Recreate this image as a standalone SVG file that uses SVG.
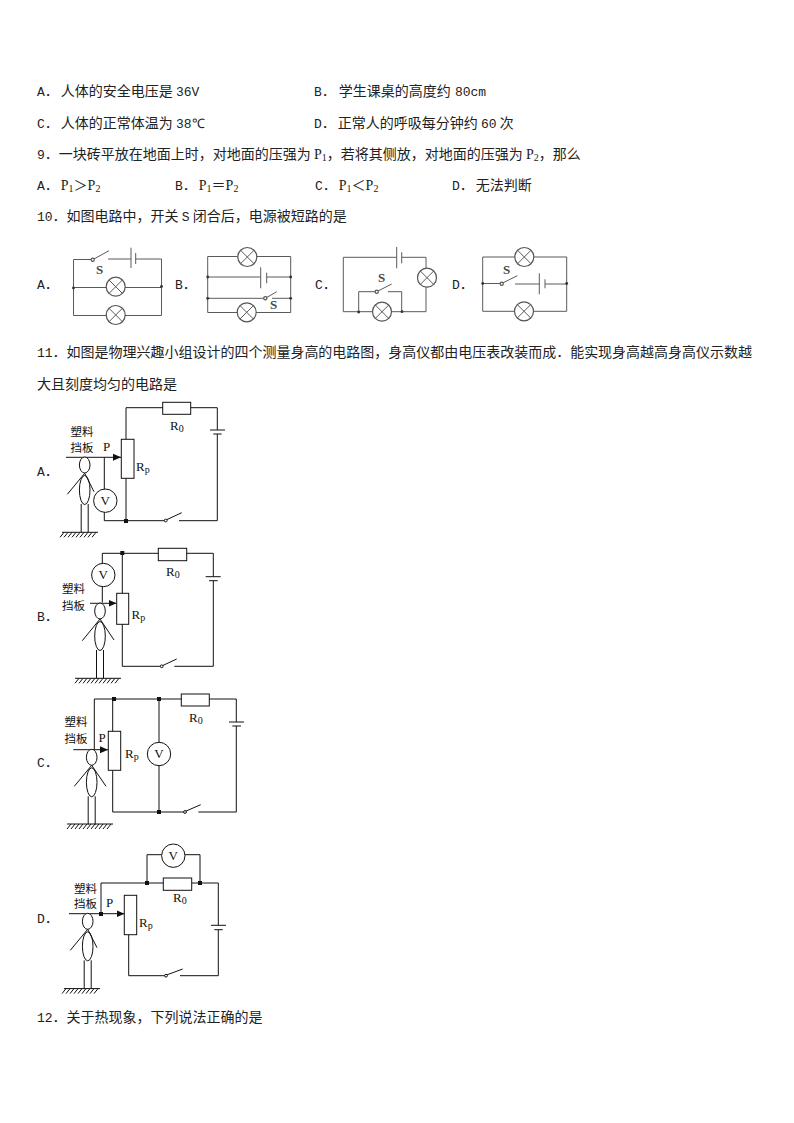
<svg xmlns="http://www.w3.org/2000/svg" xmlns:xlink="http://www.w3.org/1999/xlink" width="794" height="1123" viewBox="0 0 794 1123">
<style>
.t{font-family:"Noto Sans CJK SC","Liberation Serif",sans-serif;font-size:14px;fill:#222}
.l{font-family:"Liberation Mono",monospace;font-size:13px}
.n{font-family:"Liberation Serif",serif;font-size:14px}
.s{font-family:"Liberation Serif",serif;font-size:10px}
.lb{font-family:"Noto Sans CJK SC",sans-serif;font-size:11.5px;fill:#111}
.r{font-family:"Liberation Serif",serif;font-size:13px;fill:#111}
.w{fill:none;stroke:#111;stroke-width:1}
.g{fill:none;stroke:#5a5a5a;stroke-width:1}
.c{fill:#fff;stroke:#111;stroke-width:1}
.cg{fill:#fff;stroke:#555;stroke-width:1.2}
.d{fill:#111}
.dg{fill:#333}
.sg{font-family:"Liberation Serif",serif;font-size:13px;font-weight:bold;fill:#444}
</style>
<defs>
<marker id="ah" markerUnits="userSpaceOnUse" markerWidth="8" markerHeight="8" refX="8" refY="4" orient="auto"><path d="M0,0.5L8,4L0,7.5z" fill="#111"/></marker>
<g id="lamp"><circle r="9.5" class="cg"/><path d="M-6.7,-6.7L6.7,6.7M6.7,-6.7L-6.7,6.7" class="g"/></g>
<g id="person">
<ellipse cx="0" cy="0" rx="5.3" ry="8" class="c"/>
<ellipse cx="0" cy="25" rx="5.3" ry="14.5" class="c"/>
<path d="M-3.5,39V67.3M3.5,39V67.3" class="w"/>
</g>
<g id="hatch"><path d="M0,0H36M2,0L-2,5M6,0L2,5M10,0L6,5M14,0L10,5M18,0L14,5M22,0L18,5M26,0L22,5M30,0L26,5M34,0L30,5" class="w"/></g>
<g id="hatchw"><path d="M0,0H46M4,0L0,5M8,0L4,5M12,0L8,5M16,0L12,5M20,0L16,5M24,0L20,5M28,0L24,5M32,0L28,5M36,0L32,5M40,0L36,5M44,0L40,5" class="w"/></g>
</defs>
<rect width="794" height="1123" fill="#fff"/>
<g id="text">
<text class="t" x="37" y="96"><tspan class="l">A</tspan>．<tspan dx="2">人体的安全电压是 </tspan><tspan class="l">36V</tspan></text>
<text class="t" x="314" y="96"><tspan class="l">B</tspan>．<tspan dx="3">学生课桌的高度约 </tspan><tspan class="l" dx="1">80cm</tspan></text>
<text class="t" x="37" y="128"><tspan class="l">C</tspan>．<tspan dx="2">人体的正常体温为 </tspan><tspan class="l">38℃</tspan></text>
<text class="t" x="314" y="128"><tspan class="l">D</tspan>．<tspan dx="2">正常人的呼吸每分钟约 </tspan><tspan class="l">60</tspan> 次</text>
<text class="t" x="37" y="159"><tspan class="l">9</tspan>．一块砖平放在地面上时，对地面的压强为 <tspan class="n">P</tspan><tspan class="s" dy="2">1</tspan><tspan dy="-2">，若将其侧放，对地面的压强为 </tspan><tspan class="n">P</tspan><tspan class="s" dy="2">2</tspan><tspan dy="-2">，那么</tspan></text>
<text class="t" x="37" y="190"><tspan class="l">A</tspan>．<tspan class="n" dx="2">P</tspan><tspan class="s" dy="2">1</tspan><tspan dy="-2">＞</tspan><tspan class="n">P</tspan><tspan class="s" dy="2">2</tspan></text>
<text class="t" x="175" y="190"><tspan class="l">B</tspan>．<tspan class="n" dx="2">P</tspan><tspan class="s" dy="2">1</tspan><tspan dy="-2">＝</tspan><tspan class="n">P</tspan><tspan class="s" dy="2">2</tspan></text>
<text class="t" x="315" y="190"><tspan class="l">C</tspan>．<tspan class="n" dx="2">P</tspan><tspan class="s" dy="2">1</tspan><tspan dy="-2">＜</tspan><tspan class="n">P</tspan><tspan class="s" dy="2">2</tspan></text>
<text class="t" x="452" y="190"><tspan class="l">D</tspan>．<tspan dx="2">无法判断</tspan></text>
<text class="t" x="37" y="221"><tspan class="l">10</tspan>．如图电路中，开关 <tspan class="l">S</tspan> 闭合后，电源被短路的是</text>
<text class="t" x="37" y="357" textLength="715"><tspan class="l">11</tspan>．如图是物理兴趣小组设计的四个测量身高的电路图，身高仪都由电压表改装而成．能实现身高越高身高仪示数越</text>
<text class="t" x="37" y="389">大且刻度均匀的电路是</text>
<text class="t" x="37" y="1022"><tspan class="l">12</tspan>．关于热现象，下列说法正确的是</text>
<text class="t" x="37" y="289"><tspan class="l">A</tspan>．</text>
<text class="t" x="175" y="289"><tspan class="l">B</tspan>．</text>
<text class="t" x="315" y="289"><tspan class="l">C</tspan>．</text>
<text class="t" x="452" y="289"><tspan class="l">D</tspan>．</text>
<text class="t" x="37" y="476"><tspan class="l">A</tspan>．</text>
<text class="t" x="37" y="621"><tspan class="l">B</tspan>．</text>
<text class="t" x="37" y="767"><tspan class="l">C</tspan>．</text>
<text class="t" x="37" y="923"><tspan class="l">D</tspan>．</text>
</g>
<g id="connectors">
<!-- Q10 A -->
<path class="g" d="M92.7,259.5H73.5V315.5H161.5V259H135.7M131,259H108M92.7,259.7L109,250.7M73.5,287.5H161.5"/>
<path class="g" d="M131,247.7V268M135.7,253V264" stroke-width="1.4"/>
<!-- Q10 B -->
<path class="g" d="M207.7,256.5H290.7V312.5H207.7V256.5M207.7,277H260.7M266.7,277H290.7M207.7,298.3H265.3M272,298.3H290.7M265.3,298.3L276.7,291.7"/>
<path class="g" d="M260.7,267.3V288.3M266.7,272.7V283.3" stroke-width="1.4"/>
<!-- Q10 C -->
<path class="g" d="M396.7,257.3H343.3V311.7H426V257.3H401.7M358.7,311.7V291.7H376.7L391.7,284M388,291.7H401.7V311.7"/>
<path class="g" d="M396.7,247V268.3M401.7,252.3V263.3" stroke-width="1.4"/>
<!-- Q10 D -->
<path class="g" d="M482.7,257H566.7V311.3H482.7V257M482.7,283.5H501.7L517.3,275.7M515,284H539.3M545,284H566.7"/>
<path class="g" d="M539.3,273.3V294.3M545,279.3V288.3" stroke-width="1.4"/>
<!-- Q11 A -->
<path class="w" d="M126,439.3V407.7H217.3V430M217.3,434V520.7H179M165.7,520.7H104.3V457.3M126,478.3V520.7M165.7,520.2L181.7,512.7"/>
<path class="w" d="M210,430H225M213.3,434H221.7"/>
<path class="w" d="M66,457.3H121" marker-end="url(#ah)"/>
<!-- Q11 B -->
<path class="w" d="M102.3,602.5V553.3H213.3V576.7M213.3,580.7V666.3H174.3M161.7,666.3H122.3V624.3M122.3,593.3V553.3M161.7,666L176.7,659"/>
<path class="w" d="M205.7,576.7H220.7M209,580.7H217.7"/>
<path class="w" d="M90,603.3H116.5" marker-end="url(#ah)"/>
<!-- Q11 C -->
<path class="w" d="M94.3,749.7V699H236.3V722M236.3,726V812H198.3M185,812H112.7V770.3M112.7,731.3V699M159,699V812M185,811.5L200.7,804.7"/>
<path class="w" d="M229,722H244M232.3,726H241"/>
<path class="w" d="M73.3,749.7H108" marker-end="url(#ah)"/>
<!-- Q11 D -->
<path class="w" d="M101,914V883H218.3V925.3M218.3,929.7V975.7H180M166,975.7H128.7V934.7M147,883V854.7H161.7M185,854.7H200V883M166,975.2L182.7,969"/>
<path class="w" d="M211,925.3H226M214.3,929.7H222.7"/>
<path class="w" d="M69,913.7H124.5" marker-end="url(#ah)"/>
</g>
<g id="q10-a">
<use href="#lamp" x="115.7" y="286.7"/><use href="#lamp" x="115.7" y="315"/>
<circle cx="92.7" cy="259.7" r="1.6" class="cg"/>
<circle cx="73.5" cy="288" r="1.4" class="dg"/><circle cx="161.5" cy="286.5" r="1.4" class="dg"/>
<text class="sg" x="96" y="274">S</text>
</g>
<g id="q10-b">
<use href="#lamp" x="247.3" y="257"/><use href="#lamp" x="246.7" y="312.3"/>
<circle cx="265.3" cy="298.3" r="1.6" class="cg"/>
<circle cx="207.7" cy="277" r="1.4" class="dg"/><circle cx="290.7" cy="277" r="1.4" class="dg"/><circle cx="207.7" cy="298.3" r="1.4" class="dg"/><circle cx="290.7" cy="298.3" r="1.4" class="dg"/>
<text class="sg" x="270" y="309">S</text>
</g>
<g id="q10-c">
<use href="#lamp" x="427" y="277.7"/><use href="#lamp" x="382" y="311.7"/>
<circle cx="376.7" cy="291.7" r="1.6" class="cg"/>
<circle cx="358.7" cy="312" r="1.4" class="dg"/><circle cx="402" cy="311.7" r="1.4" class="dg"/>
<text class="sg" x="378" y="282">S</text>
</g>
<g id="q10-d">
<use href="#lamp" x="524.3" y="257"/><use href="#lamp" x="524" y="311.3"/>
<circle cx="501.7" cy="283.7" r="1.6" class="cg"/>
<circle cx="482.7" cy="283.5" r="1.4" class="dg"/><circle cx="566.7" cy="283.5" r="1.4" class="dg"/>
<text class="sg" x="503" y="274">S</text>
</g>
<g id="q11-a">
<rect x="162.7" y="402.3" width="28" height="12" class="c"/>
<rect x="121.3" y="439.3" width="12.7" height="39" class="c"/>
<circle cx="105.3" cy="500.7" r="11.7" class="c"/>
<text class="r" x="105.3" y="505" text-anchor="middle">V</text>
<circle cx="165.7" cy="520.5" r="1.4" class="c"/><rect x="124" y="519" width="4" height="4" class="d"/>
<use href="#person" x="84.7" y="465"/>
<path class="w" d="M84.7,473.3L67.3,494.3M84.7,473.3L94,491.7"/>
<use href="#hatch" x="62" y="532.3"/>
<text class="lb" x="70.5" y="436">塑料</text><text class="lb" x="70.5" y="452">挡板</text>
<text class="r" x="103" y="451">P</text>
<text class="r" x="170" y="430">R<tspan class="s" dy="2">0</tspan></text>
<text class="r" x="136" y="471">R<tspan class="s" dy="2">p</tspan></text>
</g>
<g id="q11-b">
<rect x="158.3" y="548.3" width="28.4" height="12.4" class="c"/>
<rect x="116.7" y="593.3" width="12" height="31" class="c"/>
<circle cx="103.3" cy="575" r="11.7" class="c"/>
<text class="r" x="103.3" y="579" text-anchor="middle">V</text>
<circle cx="161.7" cy="666.3" r="1.4" class="c"/><rect x="120.3" y="551" width="4" height="4" class="d"/>
<use href="#person" x="100" y="611"/>
<path class="w" d="M100,619L82.3,640.7M100,619L114,640"/>
<use href="#hatchw" x="75" y="678.3"/>
<text class="lb" x="62" y="593">塑料</text><text class="lb" x="62" y="610">挡板</text>
<text class="r" x="166" y="576">R<tspan class="s" dy="2">0</tspan></text>
<text class="r" x="131.5" y="619">R<tspan class="s" dy="2">p</tspan></text>
</g>
<g id="q11-c">
<rect x="181.3" y="694" width="28" height="12" class="c"/>
<rect x="108.3" y="731.3" width="12.4" height="39" class="c"/>
<circle cx="159" cy="754" r="11.7" class="c"/>
<text class="r" x="159" y="758" text-anchor="middle">V</text>
<circle cx="185" cy="812" r="1.4" class="c"/>
<rect x="112" y="697" width="4" height="4" class="d"/><rect x="157" y="697" width="4" height="4" class="d"/><rect x="157" y="810" width="4" height="4" class="d"/>
<use href="#person" x="91.7" y="757.3"/>
<path class="w" d="M91.7,765.3L74.3,786.3M91.7,765.3L106,786.3"/>
<use href="#hatchw" x="67" y="824"/>
<text class="lb" x="64.5" y="726">塑料</text><text class="lb" x="64.5" y="743">挡板</text>
<text class="r" x="98.5" y="742">P</text>
<text class="r" x="189" y="722">R<tspan class="s" dy="2">0</tspan></text>
<text class="r" x="125" y="758">R<tspan class="s" dy="2">p</tspan></text>
</g>
<g id="q11-d">
<rect x="163.3" y="878" width="28.4" height="12.3" class="c"/>
<rect x="124.3" y="895.3" width="12.4" height="39.4" class="c"/>
<circle cx="173.3" cy="855.7" r="11.7" class="c"/>
<text class="r" x="173.3" y="860" text-anchor="middle">V</text>
<circle cx="166" cy="975.7" r="1.4" class="c"/>
<rect x="99" y="912" width="4" height="4" class="d"/><rect x="145" y="881" width="4" height="4" class="d"/><rect x="198" y="881" width="4" height="4" class="d"/>
<use href="#person" x="87.7" y="921.3"/>
<path class="w" d="M87.7,929.3L70.3,950.3M87.7,929.3L97,947.7"/>
<use href="#hatch" x="64" y="988.6"/>
<text class="lb" x="74" y="893">塑料</text><text class="lb" x="74" y="908">挡板</text>
<text class="r" x="106" y="907">P</text>
<text class="r" x="173" y="902">R<tspan class="s" dy="2">0</tspan></text>
<text class="r" x="139" y="927">R<tspan class="s" dy="2">p</tspan></text>
</g>
</svg>
